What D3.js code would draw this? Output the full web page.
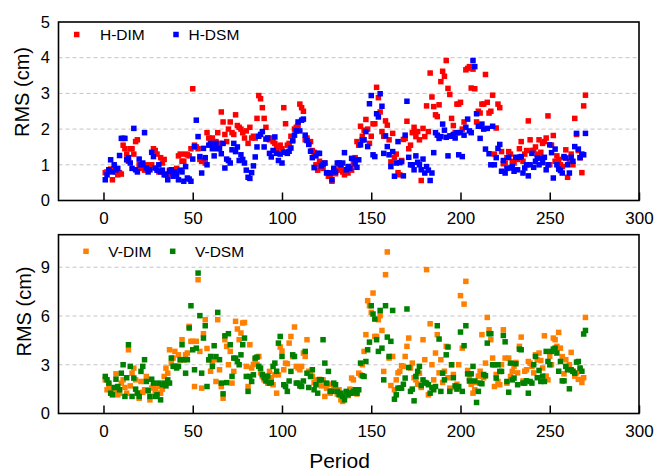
<!DOCTYPE html>
<html><head><meta charset="utf-8">
<script src="https://cdn.jsdelivr.net/npm/d3@7"></script>
<style>body{margin:0;background:#fff;} text{font-family:Arial,"Liberation Sans",sans-serif;fill:#000;}</style>
</head><body><svg id="c" width="654" height="474"></svg>
<script>
const xTicks = [0, 50, 100, 150, 200, 250, 300];
const hTicks = [0, 1, 2, 3, 4, 5];
const hGrid = [1, 2, 3, 4];
const vTicks = [0, 3, 6, 9];
const vGrid = [3, 6, 9];
const periods = d3.range(1, 271);

const hDIM = [
0.78,0.80,0.85,0.88,0.58,0.90,0.80,0.72,0.78,0.74,
1.55,1.45,1.30,1.10,1.45,1.45,1.30,1.65,1.70,1.00,
0.90,0.95,0.85,1.00,0.95,0.92,1.00,1.45,1.40,1.30,
0.80,1.20,1.05,1.15,0.75,0.72,0.85,0.75,0.82,0.80,
0.90,1.25,1.30,1.10,1.10,1.30,1.28,1.25,1.45,3.13,
1.55,1.50,1.45,1.15,1.10,1.10,1.05,1.90,1.75,1.60,
1.75,1.55,1.65,1.90,1.60,2.48,2.20,1.85,1.65,2.00,
2.20,1.90,1.85,2.40,2.10,2.05,2.00,1.90,1.75,1.95,
1.60,2.05,1.75,1.80,1.75,2.30,2.94,2.85,2.60,2.30,
2.05,1.75,1.70,1.75,1.65,1.60,1.45,1.50,1.55,1.45,
2.60,2.15,1.55,1.60,1.80,1.70,2.00,2.05,2.10,2.70,
2.60,2.50,1.70,1.75,1.60,1.65,1.40,1.35,1.00,0.85,
1.10,0.95,0.90,1.05,0.77,0.68,0.70,0.54,0.80,0.75,
0.85,1.00,0.90,0.80,0.72,0.85,0.77,0.95,0.85,1.00,
1.20,1.65,1.55,2.08,1.80,1.97,2.27,2.00,1.60,1.80,
2.15,2.15,3.17,2.88,2.48,1.93,1.80,2.23,2.11,1.70,
1.08,1.88,1.20,1.30,0.78,0.72,1.12,1.71,1.74,2.22,
1.45,1.55,1.90,2.05,1.79,1.93,1.70,0.56,2.02,1.79,
2.65,1.93,3.57,2.90,2.63,2.40,2.35,2.68,3.33,3.62,
3.48,3.92,3.14,2.97,2.30,2.10,1.90,2.70,2.70,2.75,
2.00,2.20,3.66,3.70,3.75,3.15,3.68,3.13,2.20,2.50,
2.45,2.70,2.70,3.53,2.75,2.45,2.50,2.95,1.30,2.03,
2.70,2.60,1.37,1.03,1.05,1.20,1.37,1.30,1.10,1.05,
1.20,1.15,1.45,1.65,1.10,1.30,1.40,2.23,1.70,1.40,
1.40,1.50,1.30,1.70,1.35,1.60,1.65,1.75,2.37,1.00,
1.55,1.82,1.10,1.25,1.15,1.00,0.95,1.20,1.42,0.65,
1.10,1.30,1.00,2.30,1.85,1.40,1.20,0.78,2.65,2.95];

const hDSM = [
0.58,0.72,0.86,1.14,0.80,1.00,0.86,0.90,1.26,1.74,
1.74,1.74,1.14,1.20,1.05,0.90,2.02,0.86,0.80,1.16,
1.00,1.05,1.90,0.91,0.80,0.86,1.35,1.23,0.91,0.85,
1.00,0.80,0.85,0.72,0.72,0.58,0.82,0.86,0.68,0.80,
0.72,0.58,0.85,0.80,0.54,0.95,0.63,0.60,0.54,1.16,
1.51,2.25,1.79,1.23,0.77,1.46,1.20,1.00,1.55,1.60,
1.45,1.25,1.60,1.45,1.46,1.31,1.60,0.91,1.16,1.12,
1.05,1.42,1.60,1.37,1.50,1.12,1.28,1.15,1.05,0.85,
0.65,0.62,0.78,0.97,1.22,1.50,1.80,1.85,1.93,1.50,
1.72,1.75,1.32,1.22,1.40,1.78,1.32,1.12,1.30,1.05,
1.35,1.35,1.32,1.38,1.47,1.67,1.83,1.95,2.20,1.95,
2.25,2.28,1.83,1.68,1.57,1.38,1.20,0.92,1.25,1.32,
1.32,0.97,1.02,1.05,0.78,0.77,0.77,0.58,0.90,0.80,
1.05,1.05,1.00,1.05,1.34,0.86,0.95,0.90,1.18,1.16,
1.05,0.93,1.14,1.56,1.70,1.70,1.93,1.51,2.71,2.94,
1.28,1.23,2.43,2.34,2.99,2.64,1.32,1.81,1.51,1.28,
0.95,1.37,0.68,1.05,1.65,1.06,1.09,0.69,1.83,2.78,
1.21,1.00,1.00,0.86,1.25,1.07,1.00,0.86,1.16,0.77,
0.95,0.85,0.56,0.77,1.34,1.90,1.83,1.74,1.79,2.14,
1.97,1.77,1.25,1.81,1.80,1.85,1.75,1.90,1.28,1.90,
1.23,1.83,2.05,2.28,1.95,1.90,3.92,3.75,2.43,2.08,
1.74,2.14,2.00,1.44,2.02,1.31,1.00,2.08,1.00,1.20,
1.46,1.57,0.82,1.12,0.77,0.90,1.21,0.91,0.95,0.82,
1.21,0.86,1.21,1.23,0.77,0.91,1.00,0.69,1.00,1.32,
0.93,1.10,1.19,1.00,1.19,1.06,1.21,0.86,1.00,1.56,
1.34,0.63,1.44,1.00,0.88,0.84,0.77,1.23,1.19,1.00,
0.77,1.21,1.10,1.51,1.88,1.44,1.20,1.30,1.28,1.88];

const vDIM = [
2.07,1.46,1.75,1.56,1.25,1.40,2.44,1.15,1.25,1.87,
2.07,1.60,1.25,3.92,1.70,2.48,2.79,2.07,1.25,0.94,
1.97,1.30,1.46,2.28,1.46,0.84,1.56,1.66,1.40,1.25,
1.66,1.25,1.50,2.28,2.79,2.48,3.92,3.10,3.41,3.82,
2.90,3.61,3.30,4.54,3.31,3.61,3.72,5.36,4.44,4.44,
1.66,4.44,8.23,3.82,1.56,4.91,5.77,4.00,3.31,2.60,
3.20,3.31,1.97,5.77,2.69,1.66,0.94,4.54,4.13,3.00,
3.82,1.87,2.59,5.67,5.20,4.54,4.95,5.57,5.60,2.90,
1.66,4.23,2.80,3.02,3.31,3.02,3.51,2.50,2.28,2.07,
2.07,1.87,2.59,2.20,1.77,2.38,1.25,2.38,4.09,3.84,
2.69,3.10,3.06,4.33,4.74,3.50,5.32,2.90,2.80,2.69,
2.90,3.72,3.51,4.54,2.60,2.40,2.28,1.90,2.07,1.80,
2.10,1.70,2.07,1.05,1.56,1.80,1.25,1.40,1.66,1.46,
1.20,1.46,0.84,0.74,1.00,1.30,1.10,1.50,2.18,2.07,
1.30,1.20,2.48,2.38,3.00,3.82,4.85,6.94,6.63,6.22,
7.41,4.74,4.74,5.77,6.02,5.11,2.59,8.54,9.94,3.41,
1.72,3.51,1.46,2.07,2.50,2.60,2.94,2.90,3.51,4.13,
4.64,2.80,3.10,2.20,2.07,1.80,2.48,1.60,4.54,3.31,
8.85,1.15,5.52,3.00,2.07,3.72,4.85,2.50,3.31,1.91,
2.60,4.13,2.20,1.56,3.00,2.40,1.60,1.80,3.00,7.25,
4.02,6.73,8.13,2.65,2.20,1.80,1.25,1.46,1.91,2.30,
2.60,4.85,2.20,3.10,5.91,5.15,4.54,3.41,1.66,2.40,
1.97,1.77,3.00,5.15,3.41,1.87,3.41,2.28,2.59,2.90,
3.14,2.50,4.13,4.70,2.00,2.60,2.69,3.20,3.10,2.90,
2.50,3.61,3.30,3.72,3.26,2.80,4.78,2.30,2.07,3.51,
3.00,4.64,4.54,4.13,4.99,4.02,3.50,2.44,3.31,2.80,
3.00,3.76,2.60,2.30,2.50,2.10,2.70,1.91,2.20,5.91];

const vDSM = [
2.28,2.07,1.87,1.25,1.15,1.60,2.11,1.66,1.46,2.48,
3.00,1.05,2.20,4.23,2.90,1.05,2.18,1.50,1.25,1.05,
2.59,2.90,3.31,1.97,1.40,1.05,2.11,1.87,1.05,1.15,
1.87,0.84,1.77,1.87,1.70,2.07,1.87,3.41,2.90,2.90,
2.80,2.90,3.31,4.23,3.31,2.48,3.31,5.26,6.63,3.92,
2.69,4.02,8.64,6.02,2.48,4.64,5.40,1.66,3.30,3.51,
2.90,4.17,3.50,6.22,3.31,1.87,1.21,4.78,1.90,4.91,
4.23,2.28,3.41,3.40,3.20,3.00,3.61,4.23,4.64,2.28,
1.36,2.28,1.97,2.38,3.41,3.47,2.90,2.79,2.40,2.20,
2.00,2.30,1.87,1.91,2.90,3.10,2.60,4.33,4.74,3.51,
1.77,1.66,1.36,2.00,2.59,3.61,3.51,1.87,1.87,1.70,
1.66,2.00,3.82,2.48,1.60,2.28,2.69,1.46,1.77,1.25,
2.07,2.07,4.54,3.10,1.87,2.59,1.36,1.36,1.87,1.77,
1.36,1.15,1.25,1.05,0.84,1.36,1.15,1.25,1.25,1.36,
1.46,1.25,1.46,3.10,2.32,2.28,3.20,3.92,4.39,6.63,
6.12,5.81,4.54,3.82,6.34,4.02,2.07,6.63,4.70,3.51,
4.44,6.34,0.88,1.15,1.56,1.56,1.56,1.80,2.18,6.43,
2.83,1.36,1.50,0.78,2.28,2.59,2.90,1.72,2.07,1.91,
1.87,1.77,1.25,1.60,1.46,1.66,5.40,4.58,1.36,2.48,
2.07,3.61,4.09,1.36,3.00,2.20,1.70,1.50,1.66,5.01,
1.36,4.17,5.40,2.44,2.00,2.44,2.90,2.00,0.68,1.36,
1.87,1.83,2.40,2.32,4.33,4.91,4.91,3.00,3.00,2.18,
3.00,2.59,2.59,4.80,4.41,1.97,1.31,3.10,2.07,2.18,
3.06,1.77,3.96,3.92,1.87,1.87,2.01,1.25,1.97,1.87,
3.00,3.51,2.20,2.65,1.97,2.30,1.97,3.82,3.20,3.00,
3.82,3.96,4.02,3.72,2.60,3.20,2.01,2.01,2.90,2.69,
1.52,2.69,2.59,2.48,3.16,3.20,2.80,2.60,4.89,5.11];

const svg = d3.select('#c');
const X0 = 58.5, X1 = 639;
const x = d3.scaleLinear().domain([-25.2, 300]).range([X0, X1]);
const MS = 5.5;
const FONT = 'Arial, "Liberation Sans", sans-serif';

function panel(cfg) {
  const y = d3.scaleLinear().domain([0, cfg.ymax]).range([cfg.bottom, cfg.top]);
  const g = svg.append('g');
  g.selectAll('line.grid').data(cfg.grid).enter().append('line')
    .attr('x1', X0).attr('x2', X1).attr('y1', d => y(d)).attr('y2', d => y(d))
    .attr('stroke', '#c4c4c4').attr('stroke-width', 1).attr('stroke-dasharray', '4,3');
  const xa = g.append('g').attr('transform', `translate(0,${cfg.bottom})`)
    .call(d3.axisBottom(x).tickValues(xTicks).tickFormat(d3.format('d')).tickSizeInner(-8).tickSizeOuter(0).tickPadding(11));
  xa.select('.domain').remove();
  xa.selectAll('line').attr('stroke', '#000').attr('stroke-width', 1.5);
  xa.selectAll('text').attr('font-size', 17).attr('font-family', FONT).attr('fill', '#000');
  const ya = g.append('g').attr('transform', `translate(${X0},0)`)
    .call(d3.axisLeft(y).tickValues(cfg.yticks).tickFormat(d3.format('d')).tickSize(0).tickPadding(8.5));
  ya.select('.domain').remove();
  ya.selectAll('text').attr('font-size', 16.5).attr('font-family', FONT).attr('fill', '#000');
  cfg.series.forEach(s => {
    g.append('g').selectAll('rect').data(periods).enter().append('rect')
      .attr('x', d => x(d) - MS / 2).attr('y', (d, i) => y(s.values[i]) - MS / 2)
      .attr('width', MS).attr('height', MS).attr('fill', s.color);
  });
  g.append('rect').attr('x', X0).attr('y', cfg.top).attr('width', X1 - X0).attr('height', cfg.bottom - cfg.top)
    .attr('fill', 'none').attr('stroke', '#000').attr('stroke-width', 1.6);
  g.append('text').attr('transform', `translate(${cfg.titleX},${cfg.titleY}) rotate(-90)`)
    .attr('text-anchor', 'middle').attr('font-size', 20).text('RMS (cm)');
  cfg.series.forEach(s => {
    g.append('rect').attr('x', s.lx - MS / 2).attr('y', cfg.ly - MS / 2).attr('width', MS).attr('height', MS).attr('fill', s.color);
    g.append('text').attr('x', s.tx).attr('y', cfg.ly + 5.6).attr('font-size', 15.5).text(s.name);
  });
}

panel({top: 22, bottom: 200.5, ymax: 5, yticks: hTicks, grid: hGrid, titleX: 29, titleY: 92, ly: 34.5,
  series: [
    {name: 'H-DIM', values: hDIM, color: '#ff0000', lx: 76.7, tx: 100},
    {name: 'H-DSM', values: hDSM, color: '#0000ff', lx: 176, tx: 188.5}
  ]});
panel({top: 234.7, bottom: 413.5, ymax: 11, yticks: vTicks, grid: vGrid, titleX: 31, titleY: 311.5, ly: 251.3,
  series: [
    {name: 'V-DIM', values: vDIM, color: '#ff8000', lx: 86, tx: 108.3},
    {name: 'V-DSM', values: vDSM, color: '#008000', lx: 172.7, tx: 195}
  ]});

svg.append('text').attr('x', 339.5).attr('y', 468).attr('text-anchor', 'middle').attr('font-size', 21).text('Period');
</script></body></html>
